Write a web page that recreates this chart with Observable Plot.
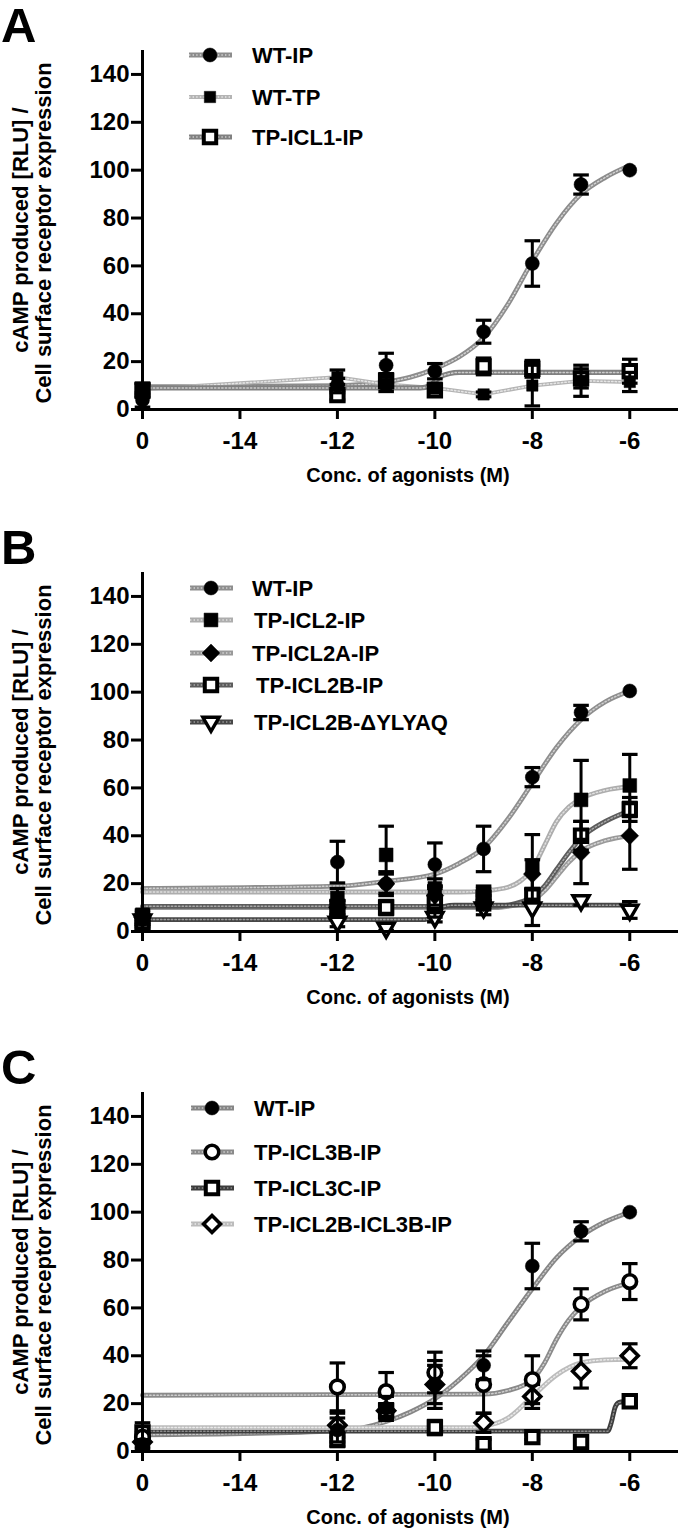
<!DOCTYPE html>
<html><head><meta charset="utf-8">
<script src="https://cdn.jsdelivr.net/npm/d3@7"></script>
<script src="https://cdn.jsdelivr.net/npm/@observablehq/plot@0.6"></script>
<style>
body{margin:0;background:#fff;font-family:"Liberation Sans",Arial,sans-serif;}
#chart{width:680px;}
svg{display:block;}
</style></head><body><div id="chart"></div>
<script>
// ---------- shared axis data ----------
const doseX = [-16, -12, -11, -10, -9, -8, -7, -6];   // -16 is the "0" (vehicle) position
const xTicks = [-16, -14, -12, -10, -8, -6];
const xTickLabels = ["0", "-14", "-12", "-10", "-8", "-6"];
const yTicks = [0, 20, 40, 60, 80, 100, 120, 140];
const panelLetters = ["A", "B", "C"];
const xTitle = "Conc. of agonists (M)";
const yTitle = ["cAMP produced [RLU] /", "Cell surface receptor expression"];

// ---------- Panel A ----------
const A_names = ["WT-IP", "WT-TP", "TP-ICL1-IP"];
const A_WTIP_mean = [4, 10, 18.5, 16, 32.5, 61, 94, 100];
const A_WTIP_sem  = [3, 3, 5, 3.2, 4.8, 9.5, 4, 0];
const A_WTTP_mean = [8.5, 13.5, 10.5, 9, 6.3, 10, 12, 11.5];
const A_WTTP_sem  = [2.5, 3, 3, 2, 1, 8.5, 6.5, 4];
const A_ICL1_mean = [8, 6, 12, 8, 18, 17, 13, 16];
const A_ICL1_sem  = [3, 2, 3, 2, 3.5, 3.5, 4, 5];
const A_WTIP_cx = [-16, -12, -11, -10.5, -10, -9.5, -9, -8.5, -8, -7.5, -7, -6.5, -6];
const A_WTIP_cy = [9.5, 10, 11.5, 13.5, 17, 22, 30, 44, 62, 78, 90, 97, 102];
const A_WTTP_cx = doseX;
const A_WTTP_cy = A_WTTP_mean;
const A_ICL1_cx = [-16, -10.3, -10.1, -9.9, -9.7, -9.5, -6];
const A_ICL1_cy = [9, 9, 10, 13.5, 15, 15.5, 15.5];

// ---------- Panel B ----------
const B_names = ["WT-IP", "TP-ICL2-IP", "TP-ICL2A-IP", "TP-ICL2B-IP", "TP-ICL2B-\u0394YLYAQ"];
const B_WTIP_mean  = [5, 29, 20, 28, 34.5, 64.5, 91.5, 100.5];
const B_WTIP_sem   = [2, 8.7, 4, 9, 9.5, 4, 3, 0];
const B_ICL2_mean  = [7, 14, 32, 18, 16, 27, 55, 61];
const B_ICL2_sem   = [2, 4, 12, 4, 3, 13.5, 16.5, 13];
const B_ICL2A_mean = [6, 10, 20, 15, 12, 24, 33, 40];
const B_ICL2A_sem  = [2, 3, 5, 4, 3, 6, 13, 14];
const B_ICL2B_mean = [4, 10, 10, 12, 14, 15, 40, 51];
const B_ICL2B_sem  = [2, 3, 3, 6, 4, 3, 6, 5];
const B_YLYAQ_mean = [5, 4, 1.5, 6, 10, 10, 13, 9];
const B_YLYAQ_sem  = [2, 2, 1, 2, 3, 7.5, 2, 3.5];
const B_WTIP_cx  = [-16, -12, -11, -10, -9.5, -9, -8.5, -8, -7.5, -7, -6.5, -6];
const B_WTIP_cy  = [18, 19, 21, 24, 28.5, 35, 47, 62, 77, 88.5, 96, 100.5];
const B_ICL2_cx  = [-16, -9.5, -9, -8.5, -8.25, -8, -7.75, -7.5, -7.25, -7, -6.5, -6];
const B_ICL2_cy  = [16.5, 16.5, 17, 18.5, 21, 26, 36, 46, 52, 55.5, 59, 60.5];
const B_ICL2A_cx = [-16, -8.75, -8.5, -8, -7.75, -7.5, -7.25, -7, -6.5, -6];
const B_ICL2A_cy = [10, 10, 10.5, 13, 17, 23, 29, 33.5, 38, 40];
const B_ICL2B_cx = [-16, -8.75, -8.5, -8, -7.75, -7.5, -7.25, -7, -6.5, -6];
const B_ICL2B_cy = [10.5, 10.5, 11, 14.5, 19, 26, 33, 39, 46, 50.5];
const B_YLYAQ_cx = [-16, -10.2, -10, -9.8, -9.6, -6];
const B_YLYAQ_cy = [5, 5, 7, 10.5, 11, 11];

// ---------- Panel C ----------
const C_names = ["WT-IP", "TP-ICL3B-IP", "TP-ICL3C-IP", "TP-ICL2B-ICL3B-IP"];
const C_WTIP_mean   = [3, 9, 18, 28, 36, 77.5, 92, 100];
const C_WTIP_sem    = [2, 5, 5, 10, 6, 9.5, 4, 0];
const C_ICL3B_mean  = [6, 27, 25, 33, 28, 30, 61.5, 71];
const C_ICL3B_sem   = [2, 10, 8, 8.5, 12, 10, 6.5, 7.5];
const C_ICL3C_mean  = [8, 5, 17, 10, 3, 6, 4, 21];
const C_ICL3C_sem   = [4, 3, 3, 3, 2, 1, 1, 2];
const C_ICL2B3B_mean = [4, 11, 17, 28, 12, 23, 33.5, 40];
const C_ICL2B3B_sem  = [2, 5, 3, 8, 4, 5, 7, 5];
const C_WTIP_cx   = [-16, -12, -11, -10.5, -10, -9.5, -9, -8.5, -8, -7.5, -7, -6.5, -6];
const C_WTIP_cy   = [7, 8.5, 12.5, 16.5, 22, 30, 40, 54, 68, 81, 90, 96, 100];
const C_ICL3B_cx  = [-16, -9, -8.5, -8, -7.75, -7.5, -7.25, -7, -6.5, -6];
const C_ICL3B_cy  = [23.5, 24, 25.5, 30, 37, 47, 55, 60.5, 67, 70.5];
const C_ICL3C_cx  = [-16, -6.45, -6.38, -6.3, -6.22, -6];
const C_ICL3C_cy  = [8.5, 8.5, 12, 18.5, 20.5, 21];
const C_ICL2B3B_cx = [-16, -9.25, -9, -8.5, -8, -7.5, -7, -6.5, -6];
const C_ICL2B3B_cy = [10, 10, 10.5, 14, 23, 32, 37, 38.3, 38.5];

// ---------- styles (kept apart from data) ----------
const triDown = {draw(ctx, size) {
  const s = Math.sqrt(size) * 0.62, h = s * Math.sqrt(3);
  ctx.moveTo(-s, -h / 3); ctx.lineTo(s, -h / 3); ctx.lineTo(0, 2 * h / 3); ctx.closePath();
}};
const M = {
  fCircle: {symbol: d3.symbolCircle, r: 7, fill: "black", stroke: "black", sw: 0.5},
  fSquareS: {symbol: d3.symbolSquare, r: 6.4, fill: "black", stroke: "black", sw: 0.5},
  fSquare: {symbol: d3.symbolSquare, r: 7.8, fill: "black", stroke: "black", sw: 0.5},
  oSquare: {symbol: d3.symbolSquare, r: 7, fill: "white", stroke: "black", sw: 4},
  fDiamond: {symbol: d3.symbolDiamond2, r: 8, fill: "black", stroke: "black", sw: 0.5},
  oDiamond: {symbol: d3.symbolDiamond2, r: 7.6, fill: "white", stroke: "black", sw: 3.6},
  oCircle: {symbol: d3.symbolCircle, r: 6.8, fill: "white", stroke: "black", sw: 3.6},
  oTri: {symbol: triDown, r: 7.4, fill: "white", stroke: "black", sw: 3.4}
};
const L = (color, dot, width) => ({color, dot, width});

const panels = [
  {height: 522, legendRows: [55, 97, 137], legendTextX: [252, 252, 252], legendMarkX: 210,
   series: [
    {name: A_names[0], mean: A_WTIP_mean, sem: A_WTIP_sem, cx: A_WTIP_cx, cy: A_WTIP_cy, curve: "monotone-x", line: L("#8c8c8c", "#d2d2d2", 4.8), mark: M.fCircle},
    {name: A_names[1], mean: A_WTTP_mean, sem: A_WTTP_sem, cx: A_WTTP_cx, cy: A_WTTP_cy, curve: "linear", line: L("#b4b4b4", "#e6e6e6", 3.8), mark: M.fSquareS},
    {name: A_names[2], mean: A_ICL1_mean, sem: A_ICL1_sem, cx: A_ICL1_cx, cy: A_ICL1_cy, curve: "monotone-x", line: L("#808080", "#cccccc", 5.2), mark: M.oSquare}
   ]},
  {height: 520, legendRows: [66, 98, 131, 163, 200], legendTextX: [252, 254, 252, 256, 254], legendMarkX: 211,
   series: [
    {name: B_names[0], mean: B_WTIP_mean, sem: B_WTIP_sem, cx: B_WTIP_cx, cy: B_WTIP_cy, curve: "monotone-x", line: L("#8e8e8e", "#d0d0d0", 4.8), mark: M.fCircle},
    {name: B_names[1], mean: B_ICL2_mean, sem: B_ICL2_sem, cx: B_ICL2_cx, cy: B_ICL2_cy, curve: "monotone-x", line: L("#adadad", "#e0e0e0", 4.8), mark: M.fSquare},
    {name: B_names[2], mean: B_ICL2A_mean, sem: B_ICL2A_sem, cx: B_ICL2A_cx, cy: B_ICL2A_cy, curve: "monotone-x", line: L("#999999", "#d4d4d4", 4.8), mark: M.fDiamond},
    {name: B_names[3], mean: B_ICL2B_mean, sem: B_ICL2B_sem, cx: B_ICL2B_cx, cy: B_ICL2B_cy, curve: "monotone-x", line: L("#5c5c5c", "#a8a8a8", 4.8), mark: M.oSquare},
    {name: B_names[4], mean: B_YLYAQ_mean, sem: B_YLYAQ_sem, cx: B_YLYAQ_cx, cy: B_YLYAQ_cy, curve: "monotone-x", line: L("#464646", "#9c9c9c", 4.8), mark: M.oTri}
   ]},
  {height: 488, legendRows: [66, 110, 146, 182], legendTextX: [254, 254, 254, 254], legendMarkX: 212,
   series: [
    {name: C_names[0], mean: C_WTIP_mean, sem: C_WTIP_sem, cx: C_WTIP_cx, cy: C_WTIP_cy, curve: "monotone-x", line: L("#858585", "#c8c8c8", 4.8), mark: M.fCircle},
    {name: C_names[1], mean: C_ICL3B_mean, sem: C_ICL3B_sem, cx: C_ICL3B_cx, cy: C_ICL3B_cy, curve: "monotone-x", line: L("#8a8a8a", "#cfcfcf", 4.8), mark: M.oCircle},
    {name: C_names[2], mean: C_ICL3C_mean, sem: C_ICL3C_sem, cx: C_ICL3C_cx, cy: C_ICL3C_cy, curve: "monotone-x", line: L("#3c3c3c", "#8c8c8c", 4.8), mark: M.oSquare},
    {name: C_names[3], mean: C_ICL2B3B_mean, sem: C_ICL2B3B_sem, cx: C_ICL2B3B_cx, cy: C_ICL2B3B_cy, curve: "monotone-x", line: L("#bcbcbc", "#eaeaea", 4.8), mark: M.oDiamond}
   ]}
];

const FONT = "Liberation Sans, Arial, Helvetica, sans-serif";
const plotBottom = 409;   // pixel row of y = 0 inside each panel svg
const capHalf = 0.16;

function buildPanel(p, idx) {
  const marks = [];
  // fitted curves (base + dotted texture)
  p.series.forEach(s => {
    const cd = s.cx.map((x, j) => ({x, y: s.cy[j]}));
    marks.push(Plot.line(cd, {x: "x", y: "y", curve: s.curve, stroke: s.line.color, strokeWidth: s.line.width}));
    marks.push(Plot.line(cd, {x: "x", y: "y", curve: s.curve, stroke: s.line.dot, strokeWidth: 1.5, strokeDasharray: "1.4,2.2"}));
  });
  // error bars and markers (first data set drawn on top)
  p.series.slice().reverse().forEach(s => {
    const pts = doseX.map((x, j) => ({x, y: s.mean[j], e: s.sem[j]}));
    const eb = pts.filter(d => d.e > 0);
    marks.push(Plot.ruleX(eb, {x: "x", y1: d => d.y - d.e, y2: d => d.y + d.e, stroke: "black", strokeWidth: 3}));
    marks.push(Plot.link(eb, {x1: d => d.x - capHalf, x2: d => d.x + capHalf, y1: d => d.y + d.e, y2: d => d.y + d.e, stroke: "black", strokeWidth: 3.2}));
    marks.push(Plot.link(eb, {x1: d => d.x - capHalf, x2: d => d.x + capHalf, y1: d => d.y - d.e, y2: d => d.y - d.e, stroke: "black", strokeWidth: 3.2}));
    marks.push(Plot.dot(pts, {x: "x", y: "y", symbol: s.mark.symbol, r: s.mark.r, fill: s.mark.fill, stroke: s.mark.stroke, strokeWidth: s.mark.sw}));
  });
  // axes
  marks.push(Plot.ruleX([-16], {y1: 0, y2: 150, stroke: "black", strokeWidth: 3}));
  marks.push(Plot.ruleY([0], {x1: -16, x2: -5, stroke: "black", strokeWidth: 3}));
  marks.push(Plot.axisY({ticks: yTicks, tickSize: 11, tickPadding: 2, strokeWidth: 3, fontSize: 24, fontWeight: "bold", label: null, tickFormat: d => String(d)}));
  marks.push(Plot.axisX({ticks: xTicks, tickSize: 10, tickPadding: 12, strokeWidth: 3, fontSize: 24, fontWeight: "bold", label: null,
                         tickFormat: d => xTickLabels[xTicks.indexOf(d)]}));

  const svg = Plot.plot({
    width: 680, height: p.height,
    marginTop: 50, marginBottom: p.height - plotBottom, marginLeft: 142, marginRight: 2,
    x: {domain: [-16, -5]},
    y: {domain: [0, 150]},
    style: {fontFamily: FONT, color: "black", background: "white", overflow: "visible"},
    marks
  });

  const g = d3.select(svg).append("g").attr("font-family", FONT).attr("font-weight", "bold").attr("fill", "black");
  // panel letter
  g.append("text").attr("x", 1).attr("y", 42).attr("text-anchor", "start").attr("font-size", 49).text(panelLetters[idx]);
  // y title (two rotated lines)
  g.append("text").attr("transform", "translate(28,230) rotate(-90)").attr("text-anchor", "middle").attr("font-size", 22).text(yTitle[0]);
  g.append("text").attr("transform", "translate(51,233) rotate(-90)").attr("text-anchor", "middle").attr("font-size", 22).text(yTitle[1]);
  // x title
  g.append("text").attr("x", 408).attr("y", 482).attr("text-anchor", "middle").attr("font-size", 20).text(xTitle);
  // legend
  p.series.forEach((s, i) => {
    const y = p.legendRows[i], mx = p.legendMarkX;
    const lg = d3.select(svg).append("g");
    lg.append("line").attr("x1", mx - 21).attr("x2", mx + 22).attr("y1", y).attr("y2", y)
      .attr("stroke", s.line.color).attr("stroke-width", s.line.width);
    lg.append("line").attr("x1", mx - 21).attr("x2", mx + 22).attr("y1", y).attr("y2", y)
      .attr("stroke", s.line.dot).attr("stroke-width", 1.5).attr("stroke-dasharray", "1.4,2.2");
    lg.append("path").attr("transform", `translate(${mx},${y})`)
      .attr("d", d3.symbol(s.mark.symbol, Math.PI * s.mark.r * s.mark.r)())
      .attr("fill", s.mark.fill).attr("stroke", s.mark.stroke).attr("stroke-width", s.mark.sw);
    lg.append("text").attr("x", p.legendTextX[i]).attr("y", y).attr("dy", "0.36em").attr("text-anchor", "start")
      .attr("font-family", FONT).attr("font-weight", "bold").attr("font-size", 22).attr("fill", "black").text(s.name);
  });
  return svg;
}

const root = document.getElementById("chart");
panels.forEach((p, i) => root.appendChild(buildPanel(p, i)));
</script>
</body></html>
